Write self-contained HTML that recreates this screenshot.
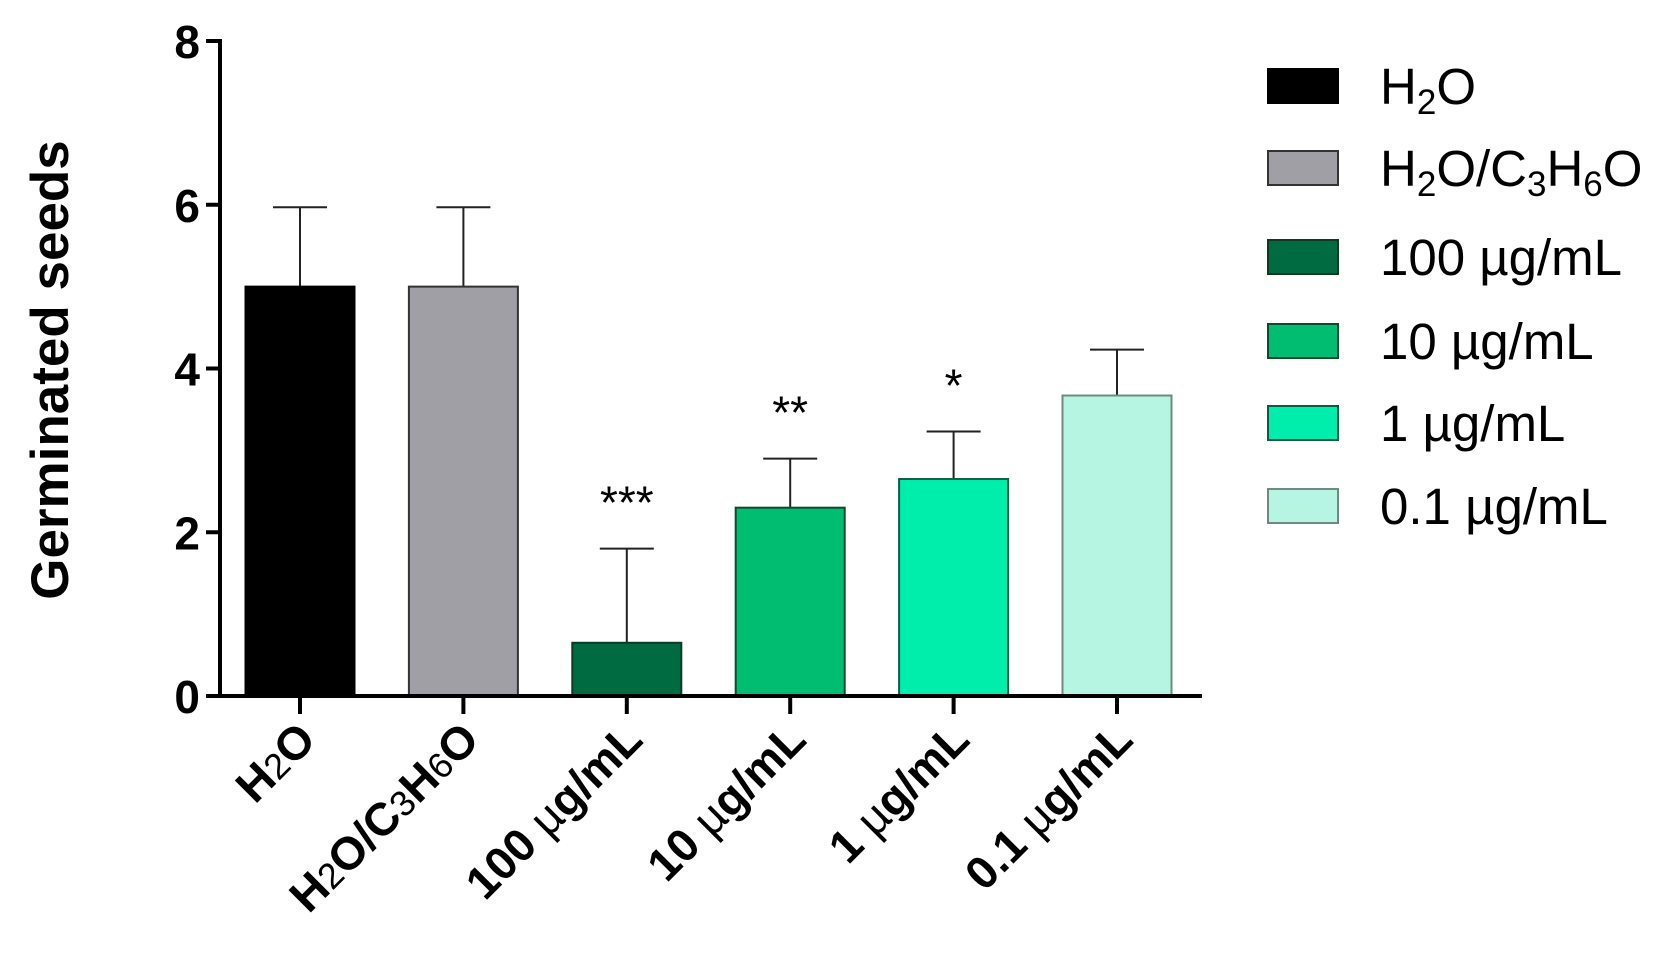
<!DOCTYPE html>
<html><head><meta charset="utf-8"><style>
body{margin:0;background:#fff;}
svg{display:block;font-family:"Liberation Sans",Arial,sans-serif;}
</style></head><body>
<svg id="chart" width="1680" height="956" viewBox="0 0 1680 956"></svg>
<script>
const categories=["H2O","H2O/C3H6O","100 µg/mL","10 µg/mL","1 µg/mL","0.1 µg/mL"];
const means=[5,5,0.65,2.3,2.65,3.67];
const errs=[0.97,0.97,1.15,0.6,0.58,0.56];
const stars=["","","***","**","*",""];
const yTicks=[0,2,4,6,8];
const colors=["#000000","#a09fa5","#006a40","#00bd72","#00eeac","#b6f5e2"];
const strokes=["#000","#333","#0c3a26","#0b4b30","#0c5c40","#6f8a80"];

const NS="http://www.w3.org/2000/svg";
const svg=document.getElementById('chart');
const x0=220,y0=696,yTop=41,ymax=8;
const yS=v=>y0-(v/ymax)*(y0-yTop);
const xC=i=>300+i*163.4;
const bw=109;
function mk(t,a,p){const e=document.createElementNS(NS,t);for(const k in a)e.setAttribute(k,a[k]);(p||svg).appendChild(e);return e;}

let e=mk('line',{x1:x0,y1:yTop-2,x2:x0,y2:y0+2,stroke:'#000','stroke-width':4});


yTicks.forEach(v=>{
  let t=mk('line',{x1:x0-14,y1:yS(v),x2:x0,y2:yS(v),stroke:'#000','stroke-width':4});
  
  
  let l=mk('text',{x:x0-20,y:yS(v)+17,'text-anchor':'end','font-size':46,'font-weight':'bold'});
  l.textContent=v;
  
  
});
let yt=mk('text',{x:0,y:0,'font-size':53,'font-weight':'bold','text-anchor':'middle',transform:'translate(68,370) rotate(-90)'});
yt.textContent='Germinated seeds';



categories.forEach((c,i)=>{
  const cx=xC(i),top=yS(means[i]);
  let el=mk('line',{x1:cx,y1:yS(means[i]+errs[i]),x2:cx,y2:top,stroke:'#222','stroke-width':2});
  
  
  let cap=mk('line',{x1:cx-27,y1:yS(means[i]+errs[i]),x2:cx+27,y2:yS(means[i]+errs[i]),stroke:'#222','stroke-width':2});
  
  
  let r=mk('rect',{x:cx-bw/2,y:top,width:bw,height:y0-top,fill:colors[i],stroke:strokes[i],'stroke-width':2});
  
  
  if(stars[i]){
    let s=mk('text',{x:cx,y:yS(means[i]+errs[i])-30,'text-anchor':'middle','font-size':46});
    s.textContent=stars[i];
    
    
  }
  let tk=mk('line',{x1:cx,y1:y0,x2:cx,y2:y0+18,stroke:'#000','stroke-width':4});
  
  
  let lb=mk('text',{x:0,y:0,'text-anchor':'end','font-size':46,'font-weight':'bold',transform:`translate(${cx+18},${y0+46}) rotate(-45)`});
  lb.innerHTML=c.replace(/H2O/g,'H<tspan font-weight="normal" font-size="36">2</tspan>O').replace(/C3H6O/g,'C<tspan font-weight="normal" font-size="36">3</tspan>H<tspan font-weight="normal" font-size="36">6</tspan>O').replace(/µ/,'<tspan font-weight="normal">µ</tspan>');
  
  
});
e=mk('line',{x1:x0-2,y1:y0,x2:1202,y2:y0,stroke:'#000','stroke-width':4});



const legY=[86,168,257,341,423,506];
categories.forEach((c,i)=>{
  let g=mk('g',{});
  
  
  mk('rect',{x:1268,y:legY[i]-17,width:70,height:34,fill:colors[i],stroke:strokes[i],'stroke-width':2},g);
  let t=mk('text',{x:1380,y:legY[i]+18,'font-size':51},g);
  t.innerHTML=c.replace(/H2O/g,'H<tspan font-size="35" dy="10">2</tspan><tspan dy="-10">O</tspan>').replace(/C3H6O/g,'C<tspan font-size="35" dy="10">3</tspan><tspan dy="-10">H</tspan><tspan font-size="35" dy="10">6</tspan><tspan dy="-10">O</tspan>');
});
</script>
</body></html>
